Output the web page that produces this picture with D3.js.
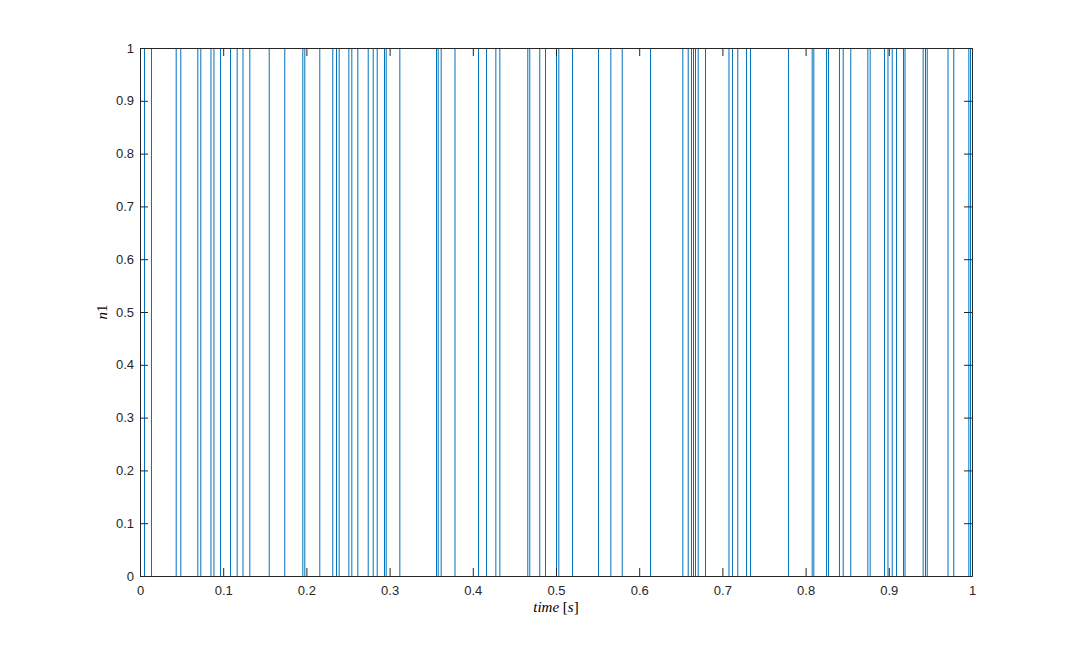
<!DOCTYPE html>
<html>
<head>
<meta charset="utf-8">
<script src="https://cdn.jsdelivr.net/npm/d3@7"></script>
<style>
  html, body { margin: 0; padding: 0; background: #ffffff; }
  svg { display: block; }
</style>
</head>
<body>
<svg id="chart" width="1074" height="648"></svg>
<script>
// Transition times of the binary signal n1
const switchTimes = [
  0.0048, 0.0132, 0.0429, 0.0484, 0.0689, 0.0725, 0.0847, 0.0883, 0.0962, 0.1082,
  0.1162, 0.1232, 0.1314, 0.1547, 0.1734, 0.1951, 0.1975, 0.2155, 0.2311, 0.2356,
  0.2388, 0.2504, 0.2540, 0.2612, 0.2737, 0.2797, 0.2845, 0.2933, 0.2953, 0.3117,
  0.3558, 0.3578, 0.3614, 0.3780, 0.4063, 0.4159, 0.4271, 0.4319, 0.4655, 0.4679,
  0.4799, 0.4868, 0.5000, 0.5028, 0.5192, 0.5505, 0.5653, 0.5790, 0.6130, 0.6518,
  0.6583, 0.6623, 0.6647, 0.6671, 0.6703, 0.6791, 0.7073, 0.7115, 0.7179, 0.7284,
  0.7332, 0.7788, 0.8073, 0.8093, 0.8245, 0.8269, 0.8401, 0.8446, 0.8537, 0.8742,
  0.8770, 0.8942, 0.8984, 0.9035, 0.9087, 0.9171, 0.9189, 0.9407, 0.9435, 0.9456,
  0.9706, 0.9775, 0.9956, 0.9976
];
const initialValue = 0;
const xTicks = [0, 0.1, 0.2, 0.3, 0.4, 0.5, 0.6, 0.7, 0.8, 0.9, 1];
const yTicks = [0, 0.1, 0.2, 0.3, 0.4, 0.5, 0.6, 0.7, 0.8, 0.9, 1];
const xTickLabels = ["0", "0.1", "0.2", "0.3", "0.4", "0.5", "0.6", "0.7", "0.8", "0.9", "1"];
const yTickLabels = ["0", "0.1", "0.2", "0.3", "0.4", "0.5", "0.6", "0.7", "0.8", "0.9", "1"];

// Build step series from the transition list
const series = [{t: 0, v: initialValue}];
let cur = initialValue;
switchTimes.forEach(t => { cur = 1 - cur; series.push({t: t, v: cur}); });
series.push({t: 1, v: cur});

const margin = {left: 140, right: 102, top: 48, bottom: 72};
const W = 1074, H = 648;
const iw = W - margin.left - margin.right;
const ih = H - margin.top - margin.bottom;

const svg = d3.select("#chart");
const g = svg.append("g").attr("transform", `translate(${margin.left},${margin.top})`);

const x = d3.scaleLinear().domain([0, 1]).range([0, iw]);
const y = d3.scaleLinear().domain([0, 1]).range([ih, 0]);

const axisColor = "#262626";
const tickLen = 8;

// Data line (stairs), drawn beneath the axes box, aligned with the axis pixel offset
const line = d3.line().x(d => x(d.t)).y(d => y(d.v)).curve(d3.curveStepAfter);
g.append("path")
  .datum(series)
  .attr("transform", "translate(0.5,0.5)")
  .attr("fill", "none")
  .attr("stroke", "#0072BD")
  .attr("stroke-width", 1)
  .attr("d", line);

// Axes (ticks inward, mirrored on top/right)
const xAxisB = d3.axisBottom(x).tickValues(xTicks).tickSizeInner(-tickLen).tickSizeOuter(0)
  .tickPadding(10).tickFormat((d, i) => xTickLabels[i]);
const xAxisT = d3.axisTop(x).tickValues(xTicks).tickSizeInner(-tickLen).tickSizeOuter(0).tickFormat("");
const yAxisL = d3.axisLeft(y).tickValues(yTicks).tickSizeInner(-tickLen).tickSizeOuter(0)
  .tickPadding(6).tickFormat((d, i) => yTickLabels[i]);
const yAxisR = d3.axisRight(y).tickValues(yTicks).tickSizeInner(-tickLen).tickSizeOuter(0).tickFormat("");

function style(sel) {
  sel.selectAll("path").attr("stroke", axisColor).attr("stroke-width", 1);
  sel.selectAll("line").attr("stroke", axisColor).attr("stroke-width", 1);
  sel.selectAll("text").attr("fill", axisColor)
    .style("font-family", "'Liberation Sans', Arial, Helvetica, sans-serif")
    .style("font-size", "13px");
}

g.append("g").attr("transform", `translate(0,${ih})`).call(xAxisB).call(style);
g.append("g").call(xAxisT).call(style);
g.append("g").call(yAxisL).call(style);
g.append("g").attr("transform", `translate(${iw},0)`).call(yAxisR).call(style);

// Axis labels (LaTeX-like)
const xl = g.append("text")
  .attr("x", iw / 2).attr("y", ih + 36)
  .attr("text-anchor", "middle")
  .attr("fill", "#000")
  .style("font-family", "'Liberation Serif', 'Times New Roman', serif")
  .style("font-size", "15px");
xl.append("tspan").style("font-style", "italic").text("time");
xl.append("tspan").text(" [");
xl.append("tspan").style("font-style", "italic").text("s");
xl.append("tspan").text("]");

const yl = g.append("text")
  .attr("transform", `translate(${-33},${ih / 2}) rotate(-90)`)
  .attr("text-anchor", "middle")
  .attr("fill", "#000")
  .style("font-family", "'Liberation Serif', 'Times New Roman', serif")
  .style("font-size", "15px");
yl.append("tspan").style("font-style", "italic").text("n");
yl.append("tspan").text("1");
</script>
</body>
</html>
